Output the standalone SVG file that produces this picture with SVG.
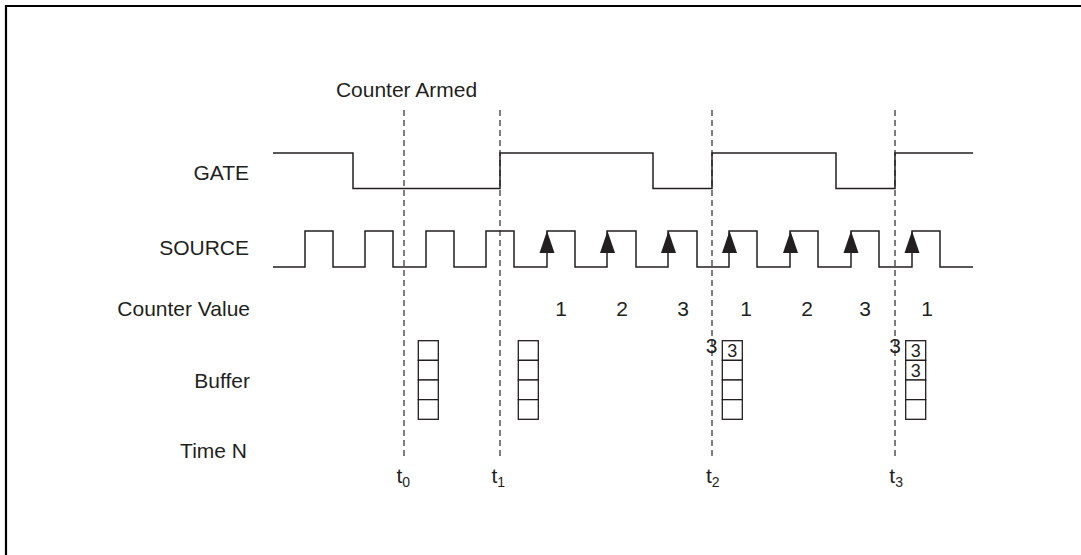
<svg xmlns="http://www.w3.org/2000/svg" xmlns:xlink="http://www.w3.org/1999/xlink" width="1081" height="555" viewBox="0 0 1081 555">
<style>
text{font-family:"Liberation Sans",Arial,Helvetica,sans-serif;fill:#231f20}
.lbl{font-size:21px;text-anchor:end}
.num{font-size:21px;text-anchor:middle}
.cell{font-size:18px;text-anchor:middle}
.sub{font-size:14px}
.wave{fill:none;stroke:#231f20;stroke-width:1.5}
.dash{fill:none;stroke:#3a3a3a;stroke-width:1.3;stroke-dasharray:6 4}
.box{fill:#fff;stroke:#231f20;stroke-width:1.3}
.arr{fill:#231f20}
</style>
<defs>
<polygon id="arrow" class="arr" points="0,231 -7.5,253 7.5,253"/>
<g id="buffer">
<rect class="box" x="0" y="340.7" width="20" height="19.65"/>
<rect class="box" x="0" y="360.35" width="20" height="19.65"/>
<rect class="box" x="0" y="380" width="20" height="19.65"/>
<rect class="box" x="0" y="399.65" width="20" height="19.65"/>
</g>
</defs>
<rect x="0" y="0" width="1081" height="555" fill="#fff"/>
<path d="M6,555 V6 H1081" fill="none" stroke="#000" stroke-width="2.2"/>

<g id="labels">
<text x="406.5" y="97" class="num">Counter Armed</text>
<text x="249" y="180" class="lbl">GATE</text>
<text x="249" y="255" class="lbl">SOURCE</text>
<text x="250" y="315.5" class="lbl">Counter Value</text>
<text x="250" y="388" class="lbl">Buffer</text>
<text x="247" y="458" class="lbl">Time N</text>
</g>

<g id="connectors">
<line class="dash" x1="404" y1="110" x2="404" y2="456"/>
<line class="dash" x1="500" y1="110" x2="500" y2="456"/>
<line class="dash" x1="712" y1="110" x2="712" y2="456"/>
<line class="dash" x1="895" y1="110" x2="895" y2="456"/>
</g>

<g id="gate">
<path class="wave" d="M273,153 H353 V188.5 H500 V153 H653 V188.5 H712 V153 H836 V188.5 H895 V153 H973"/>
</g>

<g id="source">
<path class="wave" d="M273,267 H305 V231 H333 V267 H365 V231 H393 V267 H426 V231 H454 V267 H486 V231 H514 V267 H547 V231 H575 V267 H607 V231 H636 V267 H668 V231 H697 V267 H729 V231 H757 V267 H790 V231 H818 V267 H851 V231 H879 V267 H912 V231 H940 V267 H973"/>
<use xlink:href="#arrow" x="547"/>
<use xlink:href="#arrow" x="607.5"/>
<use xlink:href="#arrow" x="668.5"/>
<use xlink:href="#arrow" x="729.5"/>
<use xlink:href="#arrow" x="790.5"/>
<use xlink:href="#arrow" x="851"/>
<use xlink:href="#arrow" x="912"/>
</g>

<g id="counter-values">
<text x="561" y="315.5" class="num">1</text>
<text x="622" y="315.5" class="num">2</text>
<text x="683" y="315.5" class="num">3</text>
<text x="746" y="315.5" class="num">1</text>
<text x="807" y="315.5" class="num">2</text>
<text x="865" y="315.5" class="num">3</text>
<text x="927" y="315.5" class="num">1</text>
</g>

<g id="buffer-t0"><use xlink:href="#buffer" x="418.3"/></g>
<g id="buffer-t1"><use xlink:href="#buffer" x="518.3"/></g>
<g id="buffer-t2">
<use xlink:href="#buffer" x="722.3"/>
<text x="732.3" y="357.3" class="cell">3</text>
<text x="711.5" y="353.3" class="num">3</text>
</g>
<g id="buffer-t3">
<use xlink:href="#buffer" x="905.7"/>
<text x="915.7" y="357.3" class="cell">3</text>
<text x="915.7" y="376.8" class="cell">3</text>
<text x="895" y="353.3" class="num">3</text>
</g>

<g id="time-labels">
<text x="396.5" y="483" style="font-size:21px">t<tspan class="sub" dy="4">0</tspan></text>
<text x="491.5" y="483" style="font-size:21px">t<tspan class="sub" dy="4">1</tspan></text>
<text x="706" y="483" style="font-size:21px">t<tspan class="sub" dy="4">2</tspan></text>
<text x="889.3" y="483" style="font-size:21px">t<tspan class="sub" dy="4">3</tspan></text>
</g>
</svg>
